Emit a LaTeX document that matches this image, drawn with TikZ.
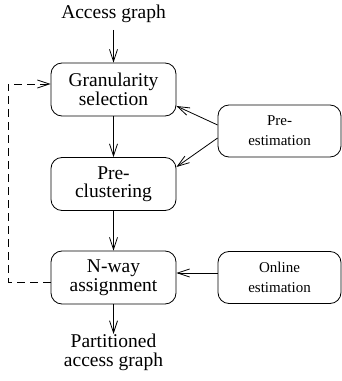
\documentclass[tikz,border=0pt]{standalone}
\usepackage{fontspec}
\setmainfont{Liberation Serif}
\usetikzlibrary{arrows.meta,calc}
\begin{document}
\begin{tikzpicture}[x=1pt,y=1pt,
  line width=0.8pt,
  >={Straight Barb[length=12pt,width=8pt]},
  mainbox/.style={draw,rounded corners=11pt,minimum width=125pt,minimum height=53pt,align=center,inner sep=0pt,font=\fontsize{19.5}{18.5}\selectfont},
  sidebox/.style={draw,rounded corners=11pt,minimum width=123pt,minimum height=52pt,align=center,inner sep=0pt,font=\fontsize{15}{20}\selectfont},
  label/.style={align=center,font=\fontsize{19.5}{18.5}\selectfont},
  dashline/.style={dash pattern=on 8pt off 5pt}]
\useasboundingbox (0,0) rectangle (342,381);
\node[label,inner sep=0pt] (acc) at (113.5,367) {Access graph};
\node[mainbox] (gran) at (113.5,291.5) {Granularity\\selection};
\node[mainbox] (pre) at (113.5,197) {Pre-\\clustering};
\node[mainbox] (nway) at (113.5,103.5) {N-way\\assignment};
\node[sidebox] (pest) at (279.5,250) {Pre-\\estimation};
\node[sidebox] (onl) at (279.5,103.5) {Online\\estimation};
\node[label,inner sep=0pt,anchor=north] (part) at (113.5,47) {Partitioned\\access graph};
\coordinate (c1) at (8,99);
\coordinate (c2) at (8,297);
\draw[->] (113.5,351) -- (gran.north);
\draw[->] (gran.south) -- (pre.north);
\draw[->] (pre.south) -- (nway.north);
\draw[->] (nway.south) -- (part.north);
\draw[->] ($(pest.west)+(0,6)$) -- ($(gran.east)+(0,-16.5)$);
\draw[->] ($(pest.west)+(0,-7)$) -- ($(pre.east)+(0,17)$);
\draw[->] ($(onl.west)+(0,4.5)$) -- ($(nway.east)+(0,4.5)$);
\draw[dashline,->] ($(nway.west)+(0,-4.5)$) -- (c1) -- (c2) -- ($(gran.west)+(0,5.5)$);
\end{tikzpicture}
\end{document}
